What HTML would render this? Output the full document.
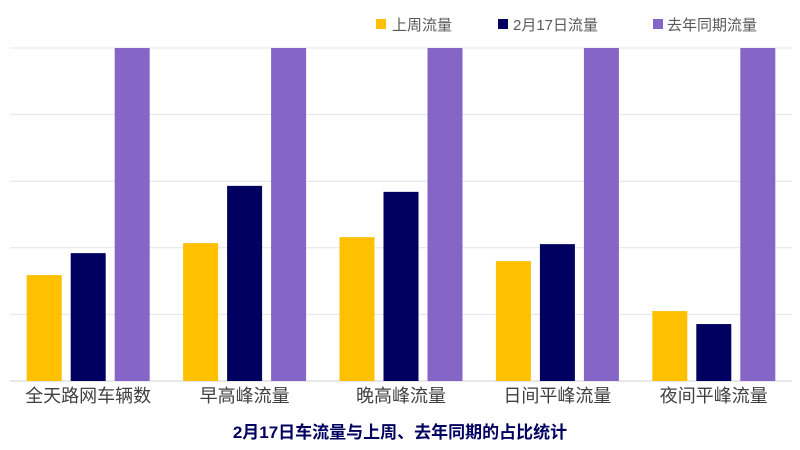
<!DOCTYPE html>
<html><head><meta charset="utf-8"><style>
body{margin:0;background:#fff;}
svg{display:block;font-family:"Liberation Sans","Noto Sans CJK SC",sans-serif;}
</style></head><body>
<svg id="chart" width="800" height="450" viewBox="0 0 800 450">
<g id="grid"></g>
<g id="bars"></g>
<g id="xlabels"></g>
<g>
 <g><rect x="376" y="19" width="10" height="10" fill="#FFC000"/><text x="392" y="30" font-size="15" fill="#595959">上周流量</text></g>
 <g><rect x="498" y="19" width="10" height="10" fill="#000060"/><text x="513" y="30" font-size="15" fill="#595959">2月17日流量</text></g>
 <g><rect x="653" y="19" width="10" height="10" fill="#8566C6"/><text x="667" y="30" font-size="15" fill="#595959">去年同期流量</text></g>
</g>
<text x="400" y="438" text-anchor="middle" font-size="17" font-weight="bold" fill="#000060">2月17日车流量与上周、去年同期的占比统计</text>
</svg>
<script>
const categories=["全天路网车辆数","早高峰流量","晚高峰流量","日间平峰流量","夜间平峰流量"];
const lastWeek=[31.8,41.4,43.2,36,21];
const feb17=[38.4,58.6,56.8,41.1,17.1];
const lastYear=[100,100,100,100,100];
const gridTicks=[0,20,40,60,80,100];
const NS="http://www.w3.org/2000/svg";
const x0=10,x1=792,yBase=381,yTop=48,yMax=100;
const y=v=>yBase-(v/yMax)*(yBase-yTop);
const gw=(x1-x0)/categories.length;
const gc=i=>x0+gw*(i+0.5);
const grid=document.getElementById('grid');
gridTicks.forEach(t=>{
 const l=document.createElementNS(NS,'line');
 
 
 l.setAttribute('x1',x0);l.setAttribute('x2',x1);
 l.setAttribute('y1',y(t));l.setAttribute('y2',y(t));
 l.setAttribute('stroke',t===0?'#d0d0d0':'#e4e4e4');l.setAttribute('stroke-width','1');
 grid.appendChild(l);
});
const series=[[lastWeek,'#FFC000','bar-last-week'],[feb17,'#000060','bar-feb17'],[lastYear,'#8566C6','bar-last-year']];
const bars=document.getElementById('bars');
const bw=35,step=44;
categories.forEach((c,i)=>{
 series.forEach((s,j)=>{
  const r=document.createElementNS(NS,'rect');
  
  
  const cx=gc(i)+(j-1)*step;
  r.setAttribute('x',cx-bw/2);r.setAttribute('width',bw);
  r.setAttribute('y',y(s[0][i]));r.setAttribute('height',yBase-y(s[0][i]));
  r.setAttribute('fill',s[1]);
  bars.appendChild(r);
 });
 const t=document.createElementNS(NS,'text');
 
 
 t.setAttribute('x',gc(i));t.setAttribute('y',402);
 t.setAttribute('text-anchor','middle');t.setAttribute('font-size','18');t.setAttribute('fill','#404040');
 t.textContent=c;
 document.getElementById('xlabels').appendChild(t);
});
</script>
</body></html>
